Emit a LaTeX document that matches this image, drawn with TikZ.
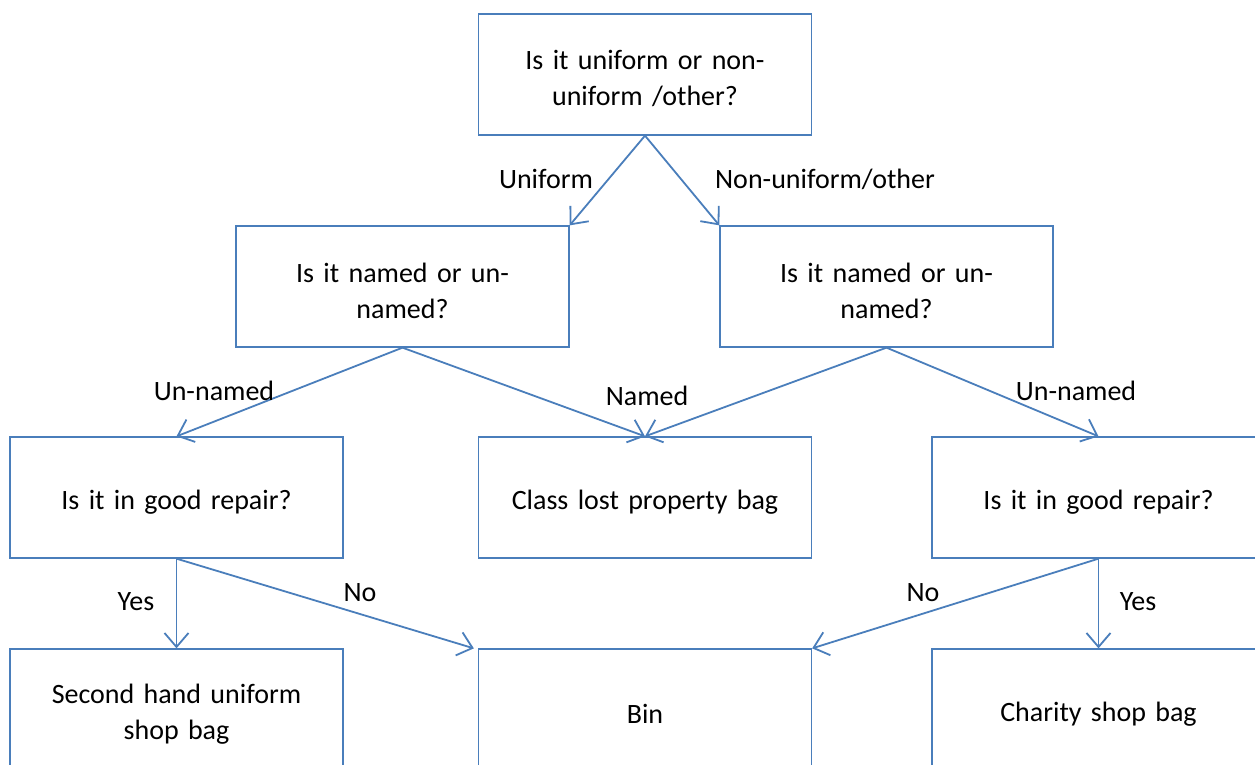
\documentclass[tikz,border=0pt]{standalone}
\usepackage{fontspec}
\setmainfont{Carlito}
\usetikzlibrary{arrows.meta}
\definecolor{boxblue}{HTML}{4A7EBB}
\begin{document}
\begin{tikzpicture}[x=1pt,y=-1pt,
  box/.style={draw=boxblue,line width=1.3pt,fill=white,minimum width=333pt,minimum height=121pt,
    inner sep=0pt,align=center,text width=320pt,font=\fontsize{28}{36}\selectfont,
    execute at begin node={\rule{0pt}{28pt}}},
  lbl/.style={font=\fontsize{28}{36}\selectfont,inner sep=0pt},
  conn/.style={draw=boxblue,line width=1.8pt,-{Straight Barb[length=14pt,width=24pt,line width=1.8pt]}}]
\useasboundingbox (0,0) rectangle (1255,764);
\node[box] (top) at (645,74.5) {Is it uniform or non-\\uniform /other?};
\node[box] (ml) at (402.5,286.5) {Is it named or un-\\named?};
\node[box] (mr) at (886.5,286.5) {Is it named or un-\\named?};
\node[box] (rl) at (176.5,497.5) {Is it in good repair?};
\node[box] (rc) at (645,497.5) {Class lost property bag};
\node[box] (rr) at (1098.5,497.5) {Is it in good repair?};
\node[box] (bl) at (176.5,709.5) {Second hand uniform\\shop bag};
\node[box] (bc) at (645,709.5) {Bin};
\node[box] (br) at (1098.5,709.5) {Charity shop bag};
\draw[conn] (top.south) -- (ml.north east);
\draw[conn] (top.south) -- (mr.north west);
\draw[conn] (ml.south) -- (rl.north);
\draw[conn] (ml.south) -- (rc.north);
\draw[conn] (mr.south) -- (rc.north);
\draw[conn] (mr.south) -- (rr.north);
\draw[conn] (rl.south) -- (bl.north);
\draw[conn] (rl.south) -- ([xshift=-4pt]bc.north west);
\draw[conn] (rr.south) -- (bc.north east);
\draw[conn] (rr.south) -- (br.north);
\node[lbl] (l1) at (546,179) {Uniform};
\node[lbl] (l2) at (825,179) {Non-uniform/other};
\node[lbl] (l3) at (214,391) {Un-named};
\node[lbl] (l4) at (647,396) {Named};
\node[lbl] (l5) at (1076,391) {Un-named};
\node[lbl] (l6) at (136,602) {Yes};
\node[lbl] (l7) at (360,593) {No};
\node[lbl] (l8) at (923,593) {No};
\node[lbl] (l9) at (1138,602) {Yes};
\end{tikzpicture}
\end{document}
